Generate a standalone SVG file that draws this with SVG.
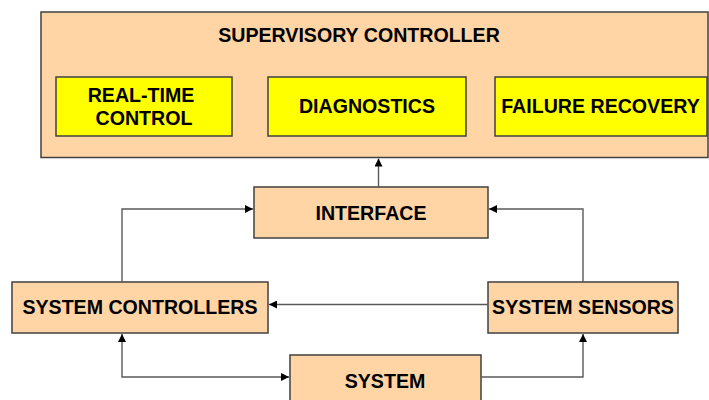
<svg xmlns="http://www.w3.org/2000/svg" width="709" height="400" viewBox="0 0 709 400">
  <style>
    .box { fill: #FFD5A6; stroke: #404040; stroke-width: 1.5; }
    .sub { fill: #FFFF00; stroke: #404040; stroke-width: 1.5; }
    .lbl { font-family: "Liberation Sans", Arial, sans-serif; font-weight: bold; font-size: 19.6px; fill: #000; text-anchor: middle; }
    .wire { fill: none; stroke: #5a5a5a; stroke-width: 1.4; }
  </style>
  <defs>
    <marker id="arrow" viewBox="0 0 10 10" refX="10" refY="5" markerWidth="8" markerHeight="8" markerUnits="userSpaceOnUse" orient="auto-start-reverse">
      <path d="M0,0 L10,5 L0,10 z" fill="#000"/>
    </marker>
  </defs>
  <rect width="709" height="400" fill="#fff"/>

  <g id="supervisory-controller">
    <rect class="box" x="41" y="12" width="667" height="145.5"/>
    <text class="lbl" x="359" y="42">SUPERVISORY CONTROLLER</text>
  </g>
  <g id="real-time-control">
    <rect class="sub" x="56" y="77" width="176" height="59"/>
    <text class="lbl" x="141" y="101.5">REAL-TIME</text>
    <text class="lbl" x="144" y="125">CONTROL</text>
  </g>
  <g id="diagnostics">
    <rect class="sub" x="268" y="77" width="198" height="59"/>
    <text class="lbl" x="367" y="113">DIAGNOSTICS</text>
  </g>
  <g id="failure-recovery">
    <rect class="sub" x="495" y="77" width="212" height="59"/>
    <text class="lbl" x="600.5" y="113">FAILURE RECOVERY</text>
  </g>
  <g id="interface">
    <rect class="box" x="254" y="187" width="234" height="51"/>
    <text class="lbl" x="371" y="220">INTERFACE</text>
  </g>
  <g id="system-controllers">
    <rect class="box" x="12" y="282" width="256" height="51"/>
    <text class="lbl" x="140" y="313.5">SYSTEM CONTROLLERS</text>
  </g>
  <g id="system-sensors">
    <rect class="box" x="488" y="282" width="190" height="51"/>
    <text class="lbl" x="583" y="313.5">SYSTEM SENSORS</text>
  </g>
  <g id="system">
    <rect class="box" x="290" y="355" width="191" height="60"/>
    <text class="lbl" x="385" y="388">SYSTEM</text>
  </g>

  <g id="connectors">
    <!-- interface up to supervisory controller -->
    <path class="wire" d="M378.5,187 V158.5" marker-end="url(#arrow)"/>
    <!-- system controllers to interface -->
    <path class="wire" d="M122,282 V209 H253" marker-end="url(#arrow)"/>
    <!-- system sensors to interface -->
    <path class="wire" d="M583,282 V209 H489" marker-end="url(#arrow)"/>
    <!-- system sensors to system controllers -->
    <path class="wire" d="M488,304.5 H269" marker-end="url(#arrow)"/>
    <!-- system controllers <-> system -->
    <path class="wire" d="M122,334 V377 H289" marker-start="url(#arrow)" marker-end="url(#arrow)"/>
    <!-- system to system sensors -->
    <path class="wire" d="M481,377 H583 V334" marker-end="url(#arrow)"/>
  </g>
</svg>
